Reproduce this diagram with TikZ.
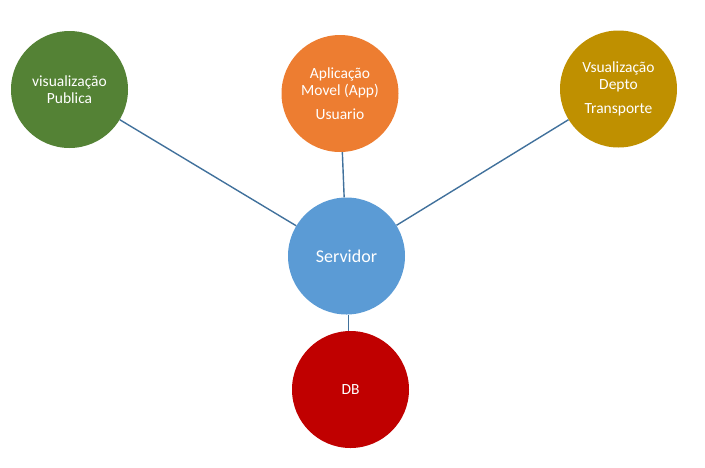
\documentclass[tikz,border=0pt]{standalone}
\usepackage{fontspec}
\setmainfont{Carlito}
\usetikzlibrary{positioning}
\definecolor{pubgreen}{HTML}{548235}
\definecolor{apporange}{HTML}{ED7D31}
\definecolor{deptogold}{HTML}{BF9000}
\definecolor{srvblue}{HTML}{5B9BD5}
\definecolor{dbred}{HTML}{C00000}
\definecolor{linkblue}{HTML}{41719C}
\tikzset{
  x=1pt, y=-1pt,
  every node/.style={circle, minimum size=117pt, inner sep=0pt, text=white,
    align=center, font=\fontsize{15.5}{17}\selectfont},
  link/.style={draw=linkblue, line width=1.4pt}
  }
\begin{document}
\begin{tikzpicture}
    \useasboundingbox (0,0) rectangle (705,467);

    \node [fill=srvblue, font=\fontsize{18}{20}\selectfont] at (346.5,256) (srv) {Servidor};
    \node [fill=pubgreen] at (69.5,89.5) (pub) {visualização\\Publica};
    \node [fill=apporange] at (340,93.5) (app) {Aplicação\\Movel (App)\\[7pt]Usuario};
    \node [fill=deptogold] at (618.5,89) (depto) {Vsualização\\Depto\\[7pt]Transporte};
    \node [fill=dbred] at (350.5,389.5) (db) {DB};

    \draw (pub) edge[link] (srv);
    \draw (app) edge[link] (srv);
    \draw (depto) edge[link] (srv);
    \draw (srv.south) ++(2,0) coordinate (srvb) edge[link] (srvb |- db.north);

\end{tikzpicture}
\end{document}
